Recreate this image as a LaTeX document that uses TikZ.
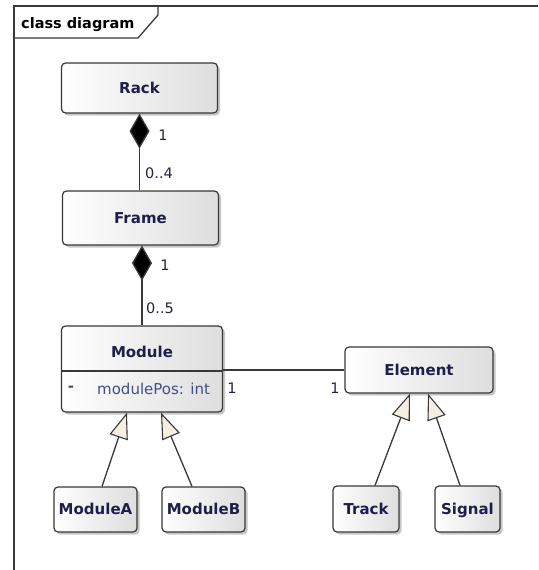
\documentclass[tikz,border=0pt]{standalone}
\usepackage{fontspec}
\setmainfont{DejaVu Sans}
\usetikzlibrary{arrows.meta,shadows}
\definecolor{ink}{HTML}{1E1E4A}
\definecolor{edgec}{HTML}{383838}
\definecolor{cream}{HTML}{F6EEE0}
\definecolor{attrc}{HTML}{3F4F85}
\definecolor{mult}{HTML}{2A2040}
\begin{document}
\begin{tikzpicture}[x=1pt,y=-1pt,
  cls/.style={draw=edgec, line width=1.2pt, rounded corners=4pt,
    left color=white, right color=black!13,
    drop shadow={shadow xshift=2.5pt, shadow yshift=-2.5pt, opacity=0.22, fill=black},
    inner sep=0pt, text height=12.5pt, text depth=2pt,
    font=\fontsize{15}{17}\selectfont\bfseries, text=ink},
  btxt/.style={inner sep=0pt, text height=12.5pt, text depth=2pt, font=\fontsize{15}{17}\selectfont\bfseries, text=ink},
  attr/.style={inner sep=0pt, font=\fontsize{15}{17}\selectfont, text=attrc},
  multl/.style={inner sep=0pt, font=\fontsize{14.5}{16}\selectfont, text=mult},
  link/.style={draw=edgec, line width=1.3pt},
  comp/.style={link, {Diamond[length=35pt,width=20pt,fill=black]}-},
  gen/.style={link, -{Triangle[length=26pt,width=19pt,fill=cream,line width=1.1pt]}},
  framel/.style={draw=edgec, line width=1.3pt}
]
\useasboundingbox (0,0) rectangle (538,570);

% diagram frame
\draw[framel] (14,570) -- (14,6) -- (538,6);
\draw[framel] (14,38) -- (138,38) -- (158,15) -- (158,6);
\node[btxt, text=black, anchor=west, font=\fontsize{14.5}{16}\selectfont\bfseries] (title) at (21,23) {class diagram};

% classes
\node[cls, minimum width=156pt, minimum height=50pt] (Rack) at (139.5,88) {Rack};
\node[cls, minimum width=156pt, minimum height=54pt] (Frame) at (140.5,218) {Frame};
\node[cls, minimum width=161pt, minimum height=86pt] (Module) at (142,369) {};
\node[btxt] (ModuleT) at (142,352) {Module};
\draw[link] (Module.west |- 0,371) coordinate (sepL) -- (Module.east |- 0,371) coordinate (sepR);
\node[attr, font=\fontsize{15}{17}\selectfont\bfseries] (vis) at (71,389) {-};
\node[attr, anchor=west] (modattr) at (97,389) {modulePos: int};
\node[cls, minimum width=148pt, minimum height=46pt] (Element) at (419,370) {Element};
\node[cls, minimum width=83pt, minimum height=45pt] (ModuleA) at (95.5,509.5) {ModuleA};
\node[cls, minimum width=83pt, minimum height=45pt] (ModuleB) at (203.5,509.5) {ModuleB};
\node[cls, minimum width=66pt, minimum height=46pt] (Track) at (366,509) {Track};
\node[cls, minimum width=65pt, minimum height=46pt] (Signal) at (467.5,509) {Signal};

% compositions
\draw[comp] (Rack.south) -- (Rack.south |- Frame.north);
\node[multl] (m1) at (163,135) {1};
\node[multl, anchor=west] (m2) at (145,173) {0..4};
\draw[comp] (Module.north |- Frame.south) -- (Module.north);
\node[multl] (m3) at (165,265) {1};
\node[multl, anchor=west] (m4) at (146,308) {0..5};

% association
\draw[link] (Element.west -| Module.east) -- (Element.west);
\node[multl] (m5) at (232,388) {1};
\node[multl] (m6) at (335,388) {1};

% generalizations
\draw[gen] ([xshift=6.5pt]ModuleA.north) -- ([xshift=-15pt]Module.south);
\draw[gen] ([xshift=-11.5pt]ModuleB.north) -- ([xshift=19pt]Module.south);
\draw[gen] ([xshift=9pt]Track.north) -- ([xshift=-9pt]Element.south);
\draw[gen] ([xshift=-7.5pt]Signal.north) -- ([xshift=9pt]Element.south);
\end{tikzpicture}
\end{document}
